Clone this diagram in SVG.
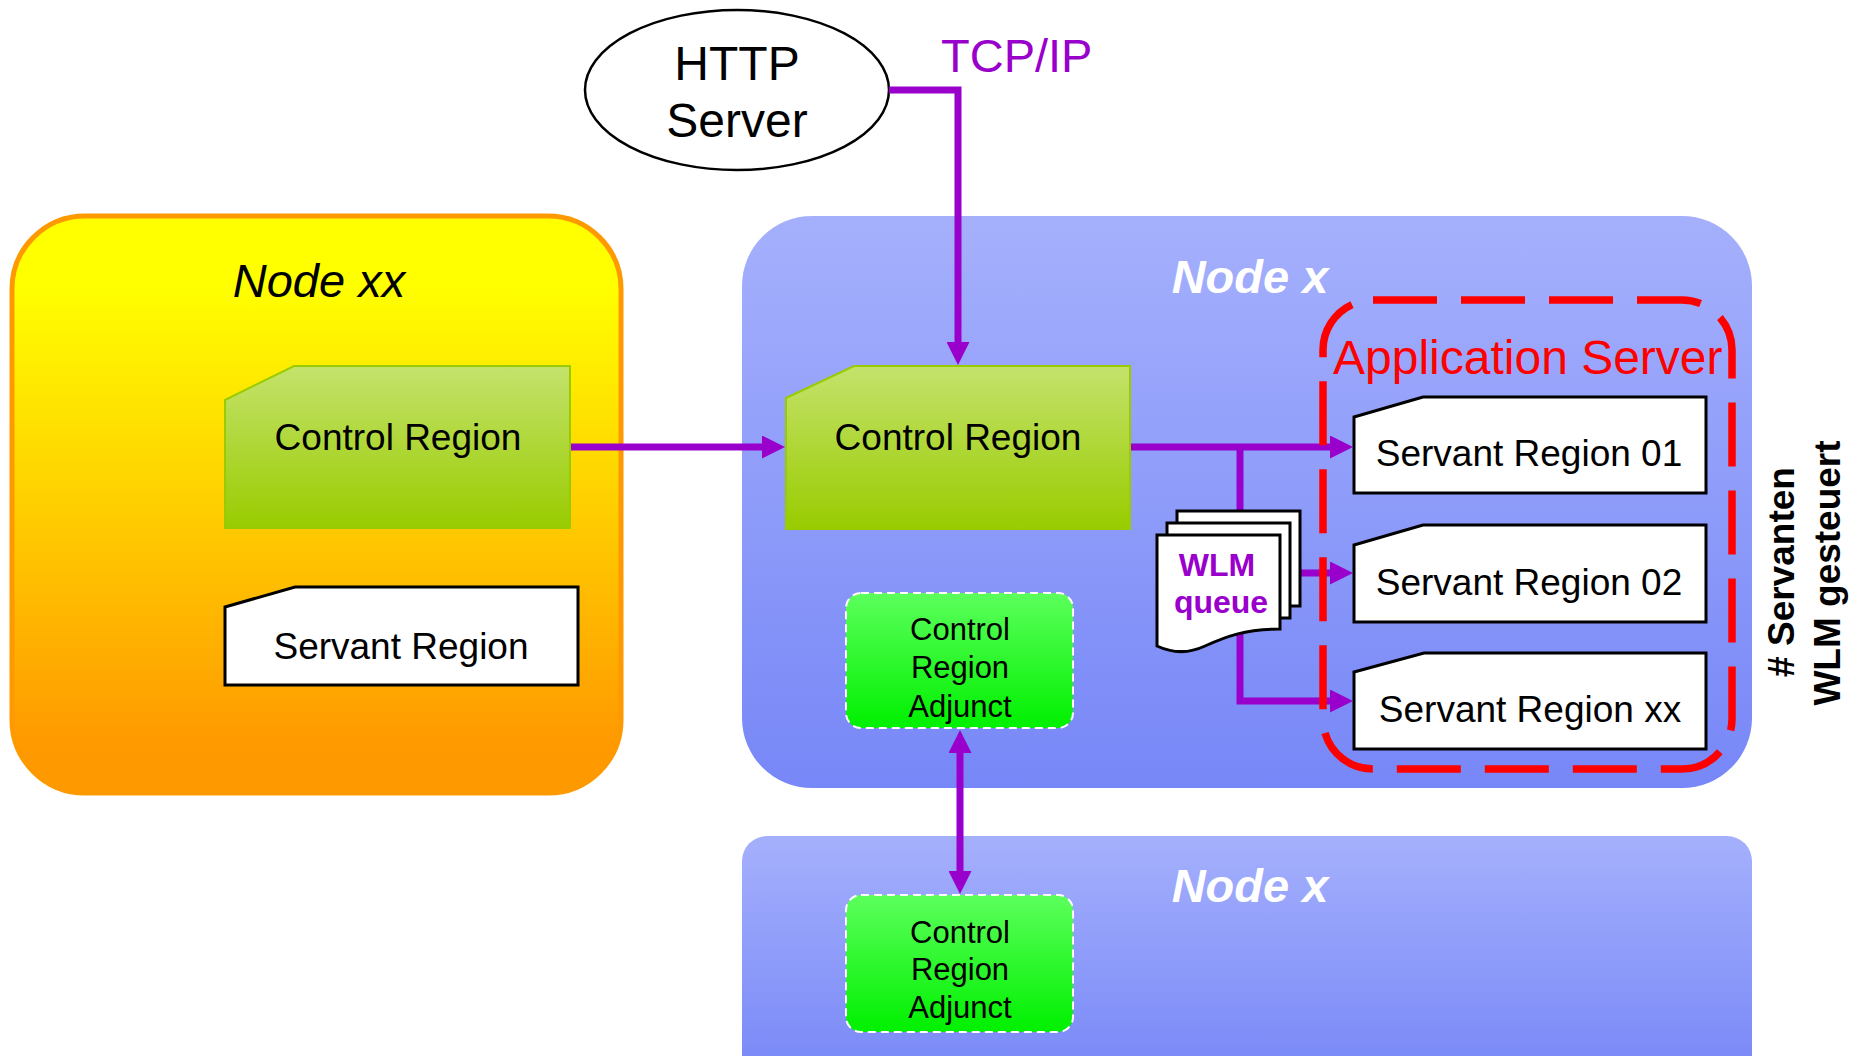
<svg xmlns="http://www.w3.org/2000/svg" width="1861" height="1056" viewBox="0 0 1861 1056">
  <style>
    text { font-family: "Liberation Sans", Arial, Helvetica, sans-serif; }
    .lbl { font-size: 37px; fill: #000; text-anchor: middle; }
    .adj { font-size: 31px; fill: #000; text-anchor: middle; }
    .nodex { font-size: 47px; font-weight: bold; font-style: italic; fill: #fff; text-anchor: middle; }
    .servant { fill: #fff; stroke: #000; stroke-width: 3; }
    .cr { fill: url(#gCR); stroke: #99CC00; stroke-width: 2; }
    .crad { stroke: #fff; stroke-width: 2; stroke-dasharray: 8 5; }
    .conn { fill: none; stroke: #9900CC; stroke-width: 7; }
    .page { fill: #fff; stroke: #000; stroke-width: 3; }
  </style>
  <defs>
    <linearGradient id="gYellow" x1="0" y1="0" x2="0" y2="1">
      <stop offset="0" stop-color="#FFFF00"/>
      <stop offset="0.12" stop-color="#FFFF00"/>
      <stop offset="0.92" stop-color="#FF9900"/>
      <stop offset="1" stop-color="#FF9900"/>
    </linearGradient>
    <linearGradient id="gBlue" x1="0" y1="0" x2="0" y2="1">
      <stop offset="0" stop-color="#A5B0FC"/>
      <stop offset="1" stop-color="#7787F7"/>
    </linearGradient>
    <linearGradient id="gBlue2" gradientUnits="userSpaceOnUse" x1="0" y1="836" x2="0" y2="1080">
      <stop offset="0" stop-color="#A5B0FC"/>
      <stop offset="1" stop-color="#7787F7"/>
    </linearGradient>
    <linearGradient id="gCR" x1="0" y1="0" x2="0" y2="1">
      <stop offset="0" stop-color="#C4E26C"/>
      <stop offset="1" stop-color="#99CC00"/>
    </linearGradient>
    <linearGradient id="gAdj" x1="0" y1="0" x2="0" y2="1">
      <stop offset="0" stop-color="#5CFF5C"/>
      <stop offset="1" stop-color="#00F000"/>
    </linearGradient>
    <marker id="arrow" viewBox="0 0 23 23" refX="0" refY="11.5" markerWidth="23" markerHeight="23" markerUnits="userSpaceOnUse" orient="auto-start-reverse">
      <path d="M0,0 L23,11.5 L0,23 Z" fill="#9900CC"/>
    </marker>
  </defs>

  <!-- Node xx (yellow) -->
  <g id="node-xx">
    <rect x="12" y="216" width="609" height="577" rx="73" ry="73" fill="url(#gYellow)" stroke="#FF9900" stroke-width="5"/>
    <text x="319" y="297" font-size="47" font-style="italic" text-anchor="middle" fill="#000">Node xx</text>
  </g>

  <!-- Node x (upper, blue) -->
  <g id="node-x-upper">
    <rect x="742" y="216" width="1010" height="572" rx="70" ry="70" fill="url(#gBlue)"/>
    <text class="nodex" x="1250" y="293">Node x</text>
  </g>

  <!-- Node x (lower, blue) -->
  <g id="node-x-lower">
    <rect x="742" y="836" width="1010" height="260" rx="25" ry="25" fill="url(#gBlue2)"/>
    <text class="nodex" x="1250" y="902">Node x</text>
  </g>

  <!-- HTTP Server -->
  <g id="http-server">
    <ellipse cx="737" cy="90" rx="152" ry="80" fill="#fff" stroke="#000" stroke-width="2.5"/>
    <text x="737" y="80" font-size="48" text-anchor="middle" fill="#000">HTTP</text>
    <text x="737" y="137" font-size="48" text-anchor="middle" fill="#000">Server</text>
  </g>

  <text id="tcpip" x="941" y="72" font-size="47" fill="#9900CC">TCP/IP</text>

  <!-- Connectors -->
  <g id="connectors">
    <path class="conn" d="M889,90 H958 V342" marker-end="url(#arrow)"/>
    <path class="conn" d="M570,447 H762" marker-end="url(#arrow)"/>
    <path class="conn" d="M1130,447 H1330" marker-end="url(#arrow)"/>
    <path class="conn" d="M1240,444 V701 H1330" marker-end="url(#arrow)"/>
    <path class="conn" d="M1300,573 H1330" marker-end="url(#arrow)"/>
    <path class="conn" d="M960,753 V871" marker-start="url(#arrow)" marker-end="url(#arrow)"/>
  </g>

  <!-- Control Region in Node xx -->
  <g id="control-region-xx">
    <path class="cr" d="M225,400 L294,366 H570 V528 H225 Z"/>
    <text class="lbl" x="398" y="450">Control Region</text>
  </g>

  <!-- Servant Region in Node xx -->
  <g id="servant-region-xx">
    <path class="servant" d="M225,607 L295,587 H578 V685 H225 Z"/>
    <text class="lbl" x="401" y="659">Servant Region</text>
  </g>

  <!-- Control Region in Node x -->
  <g id="control-region-x">
    <path class="cr" d="M786,398 L854,366 H1130 V529 H786 Z"/>
    <text class="lbl" x="958" y="450">Control Region</text>
  </g>

  <!-- Control Region Adjunct (upper) -->
  <g id="cra-upper">
    <rect class="crad" x="846" y="593" width="227" height="135" rx="15" ry="15" fill="url(#gAdj)"/>
    <text class="adj" x="960" y="640">Control</text>
    <text class="adj" x="960" y="678">Region</text>
    <text class="adj" x="960" y="717">Adjunct</text>
  </g>

  <!-- Control Region Adjunct (lower) -->
  <g id="cra-lower">
    <rect class="crad" x="846" y="895" width="227" height="137" rx="15" ry="15" fill="url(#gAdj)"/>
    <text class="adj" x="960" y="943">Control</text>
    <text class="adj" x="960" y="980">Region</text>
    <text class="adj" x="960" y="1018">Adjunct</text>
  </g>

  <!-- WLM queue (stacked documents) -->
  <g id="wlm-queue">
    <rect class="page" x="1177" y="511" width="123" height="95"/>
    <rect class="page" x="1167" y="523" width="123" height="95"/>
    <path class="page" d="M1157,535 H1280 V629 C1245,629 1225,637 1205,646 C1188,654 1172,653 1157,646 Z"/>
    <text x="1217" y="576" font-size="32" font-weight="bold" text-anchor="middle" fill="#9900CC">WLM</text>
    <text x="1221" y="613" font-size="32" font-weight="bold" text-anchor="middle" fill="#9900CC">queue</text>
  </g>

  <!-- Servant Regions in the Application Server -->
  <g id="servant-01">
    <path class="servant" d="M1354,417 L1423,397 H1706 V493 H1354 Z"/>
    <text class="lbl" x="1529" y="466">Servant Region 01</text>
  </g>
  <g id="servant-02">
    <path class="servant" d="M1354,545 L1423,525 H1706 V622 H1354 Z"/>
    <text class="lbl" x="1529" y="595">Servant Region 02</text>
  </g>
  <g id="servant-xx">
    <path class="servant" d="M1354,672 L1424,653 H1706 V749 H1354 Z"/>
    <text class="lbl" x="1530" y="722">Servant Region xx</text>
  </g>

  <!-- Application Server boundary -->
  <g id="application-server">
    <rect x="1323" y="300" width="409" height="469" rx="50" ry="50" fill="none" stroke="#FF0000" stroke-width="7.5" stroke-dasharray="64 24"/>
    <text x="1333" y="374" font-size="48" fill="#FF0000">Application Server</text>
  </g>

  <!-- Side note -->
  <g id="side-note">
    <text x="0" y="0" font-size="37" font-weight="bold" text-anchor="middle" fill="#000" transform="translate(1794,572) rotate(-90)"># Servanten</text>
    <text x="0" y="0" font-size="37" font-weight="bold" text-anchor="middle" fill="#000" transform="translate(1840,573) rotate(-90)">WLM gesteuert</text>
  </g>
</svg>
